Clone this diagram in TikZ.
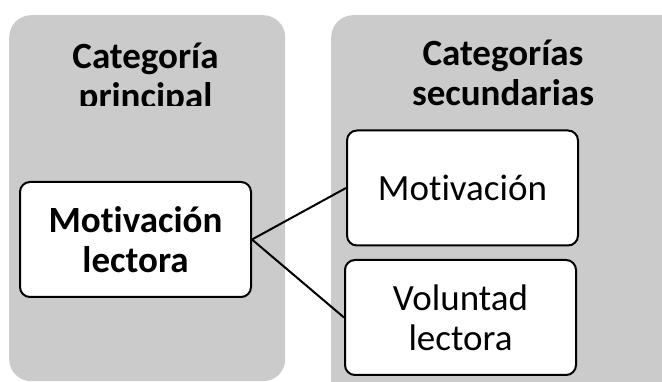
\documentclass[tikz,border=0pt]{standalone}
\usepackage{fontspec}
\setmainfont{Carlito}[Ligatures=NoCommon]
\definecolor{panelgray}{RGB}{203,203,203}
\newlength\catwidth
\setlength\catwidth{231pt}
\newlength\catheight
\setlength\catheight{115pt}

\tikzset{
  panel/.style={fill=panelgray, rounded corners=22pt, anchor=north west, inner sep=0pt},
  catbox/.style={draw, line width=2pt, fill=white, rounded corners=10pt,
    minimum width=\catwidth, minimum height=\catheight, align=center,
    font=\fontsize{37}{40}\selectfont},
  paneltitle/.style={align=center, font=\fontsize{37}{40}\selectfont\bfseries},
  link/.style={line width=2pt}
}

\begin{document}
\begin{tikzpicture}[x=1pt,y=-1pt]
    \clip (0,0) rectangle (662,382);

    % panels
    \node[panel, minimum width=276pt, minimum height=366pt] (mainpanel) at (9,15) {};
    \node[panel, minimum width=360pt, minimum height=420pt] (subpanel) at (331,15) {};

    % panel titles
    \begin{scope}
      \clip (9,15) rectangle (285,106);
      \node[paneltitle] (maintitle) at (145.5,78.5) {Categoría\\principal};
    \end{scope}
    \node[paneltitle] (subtitle) at (503,73) {Categorías\\secundarias};

    % categories
    \node[catbox, font=\fontsize{37}{40}\selectfont\bfseries] (lectora) at (135.5,239.5) {Motivación\\lectora};
    \node[catbox] (motiv) at (462.5,188) {Motivación};
    \node[catbox] (voluntad) at (460.5,317.5) {Voluntad\\lectora};

    % links
    \draw[link] (lectora.east) -- (motiv.west);
    \draw[link] (lectora.east) -- (voluntad.west);
\end{tikzpicture}
\end{document}
